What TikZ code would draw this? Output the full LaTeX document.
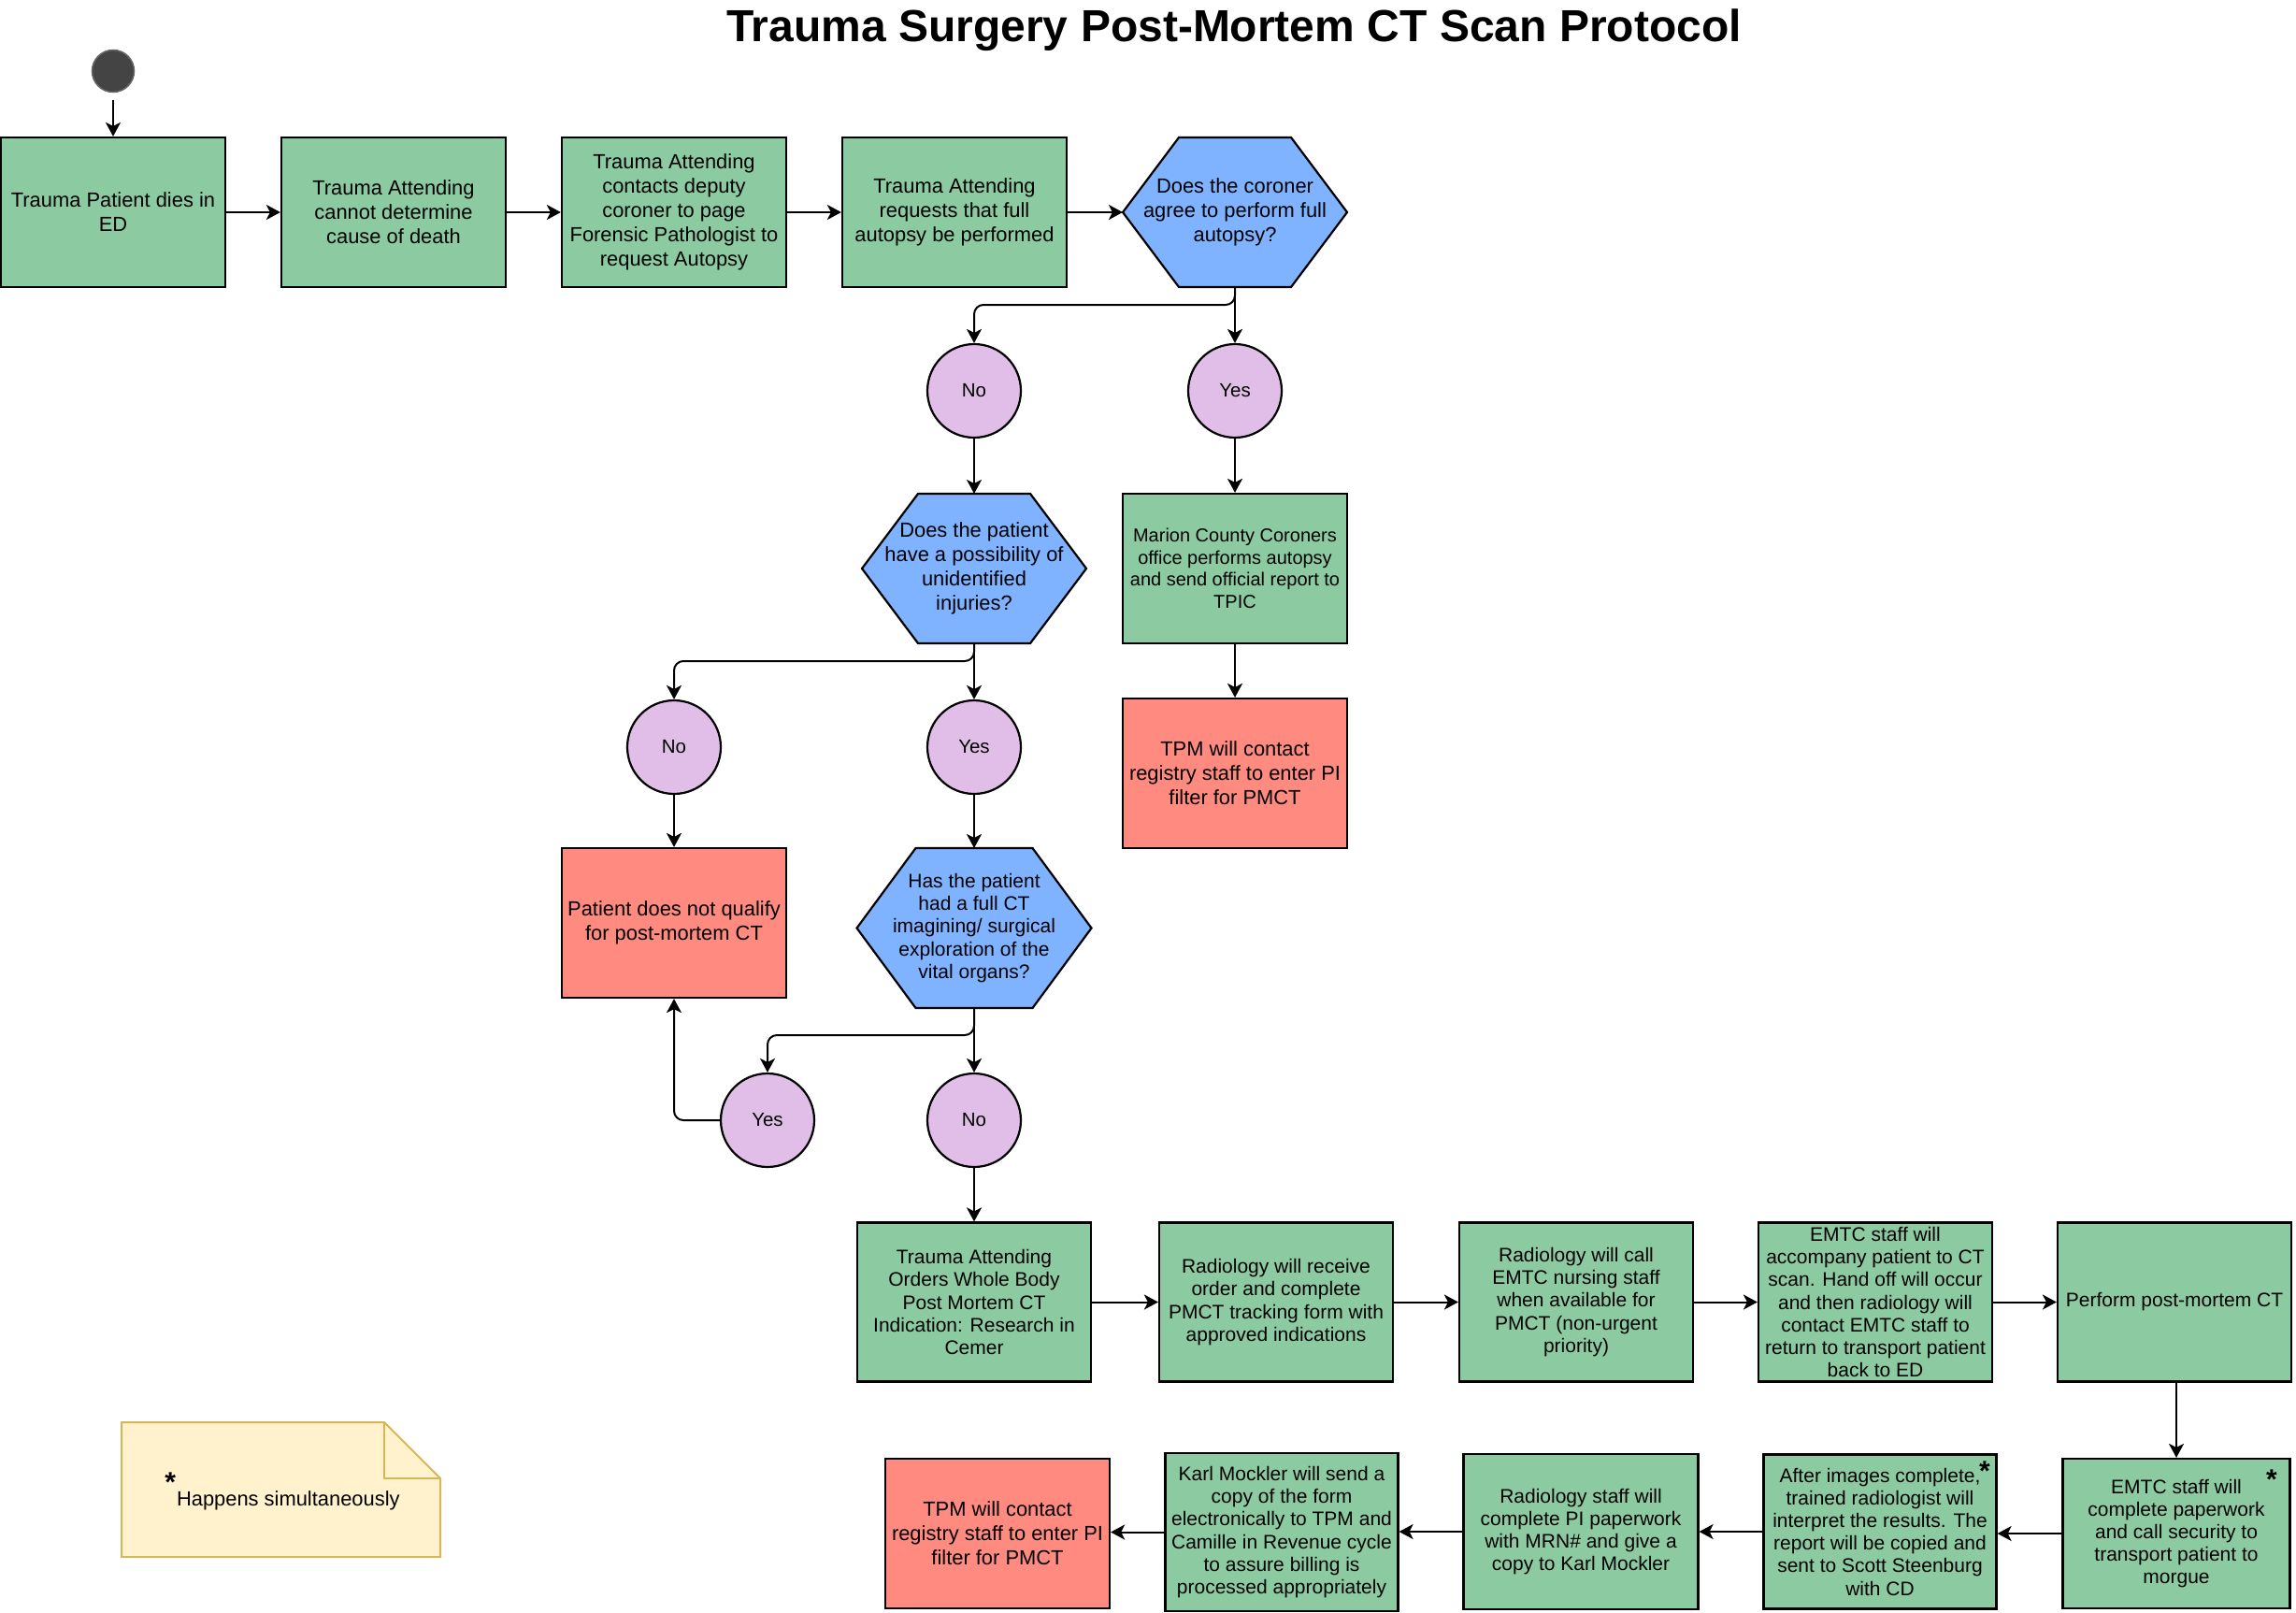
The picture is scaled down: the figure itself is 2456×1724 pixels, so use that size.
\documentclass[tikz,border=0pt]{standalone}
\usepackage{fontspec}
\setmainfont{Liberation Sans}
\usetikzlibrary{arrows.meta,calc,backgrounds}
\definecolor{boxgreen}{HTML}{8CCBA1}
\definecolor{hexblue}{HTML}{7FB2FF}
\definecolor{circpurple}{HTML}{E1BEE7}
\definecolor{boxred}{HTML}{FF8A80}
\definecolor{notefill}{HTML}{FFF2CC}
\definecolor{noteline}{HTML}{D6B656}
\definecolor{startgray}{HTML}{444444}
\definecolor{startline}{HTML}{666666}
\newcommand{\drawhex}[2]{%
  \draw[hexline] (#1.west) -- ([xshift=#2]#1.north west) -- ([xshift=-#2]#1.north east)
    -- (#1.east) -- ([xshift=-#2]#1.south east) -- ([xshift=#2]#1.south west) -- cycle;}
\tikzset{
  base/.style={align=center, font=\fontsize{21.9}{26}\selectfont, inner sep=3pt},
  smtext/.style={font=\fontsize{21}{24.2}\selectfont},
  gbox/.style={base, draw=black, line width=2.2pt, fill=boxgreen, minimum width=240pt, minimum height=160pt},
  rbox/.style={gbox, fill=boxred},
  hexn/.style={base, minimum width=240pt, minimum height=160pt, outer sep=0pt},
  hexline/.style={draw=black, line width=2.2pt, fill=hexblue, line join=miter},
  circ/.style={circle, draw=black, line width=2.2pt, fill=circpurple, minimum size=100pt, inner sep=0pt, font=\fontsize{20.5}{23}\selectfont},
  arr/.style={-{Stealth[length=15pt,width=16pt,inset=4pt]}, line width=2pt, black},
  astx/.style={font=\fontsize{30}{30}\selectfont\bfseries, inner sep=0pt},
}
\begin{document}
\begin{tikzpicture}[x=1pt,y=-1pt]
\useasboundingbox (0,0) rectangle (2456,1724);

% title
\node[font=\fontsize{48}{55}\selectfont\bfseries, anchor=base, inner sep=0pt] (title) at (1320,44) {Trauma Surgery Post-Mortem CT Scan Protocol};

% start
\node[circle, fill=startgray, draw=startline, line width=1.5pt, minimum size=45pt, inner sep=0pt] (start) at (121,76) {};

% row 1
\node[gbox] (b1) at (121,227) {Trauma Patient dies in\\ED};
\node[gbox] (b2) at (421,227) {Trauma Attending\\cannot determine\\cause of death};
\node[gbox] (b3) at (721,227) {Trauma Attending\\contacts deputy\\coroner to page\\Forensic Pathologist to\\request Autopsy};
\node[gbox] (b4) at (1021,227) {Trauma Attending\\requests that full\\autopsy be performed};
\node[hexn] (h1) at (1321,227) {Does the coroner\\agree to perform full\\autopsy?};

% circles level 1
\node[circ] (no1) at (1042,418) {No};
\node[circ] (yes1) at (1321,418) {Yes};

% level 2
\node[hexn] (h2) at (1042,608) {Does the patient\\have a possibility of\\unidentified\\injuries?};
\node[gbox, font=\fontsize{20}{23.5}\selectfont] (mar) at (1321,608) {Marion County Coroners\\office performs autopsy\\and send official report to\\TPIC};
\node[rbox] (tpm1) at (1321,827) {TPM will contact\\registry staff to enter PI\\filter for PMCT};

\node[circ] (no2) at (721,799) {No};
\node[circ] (yes2) at (1042,799) {Yes};

\node[rbox] (pat) at (721,987) {Patient does not qualify\\for post-mortem CT};
\node[hexn, smtext, minimum width=251pt, minimum height=171pt] (h3) at (1042,992.5) {Has the patient\\had a full CT\\imagining/ surgical\\exploration of the\\vital organs?};

\node[circ] (yes3) at (821,1198) {Yes};
\node[circ] (no3) at (1042,1198) {No};

% row 3
\node[gbox, smtext, minimum width=250pt, minimum height=170pt] (c1) at (1042,1392.5) {Trauma Attending\\Orders Whole Body\\Post Mortem CT\\Indication: Research in\\Cemer};
\node[gbox, smtext, minimum width=250pt, minimum height=170pt] (c2) at (1365,1392.5) {Radiology will receive\\order and complete\\PMCT tracking form with\\approved indications};
\node[gbox, smtext, minimum width=250pt, minimum height=170pt] (c3) at (1686,1392.5) {Radiology will call\\EMTC nursing staff\\when available for\\PMCT (non-urgent\\priority)};
\node[gbox, smtext, minimum width=250pt, minimum height=170pt] (c4) at (2006,1392.5) {EMTC staff will\\accompany patient to CT\\scan. Hand off will occur\\and then radiology will\\contact EMTC staff to\\return to transport patient\\back to ED};
\node[gbox, smtext, minimum width=250pt, minimum height=170pt] (c5) at (2326,1392.5) {Perform post-mortem CT};

% row 4
\node[gbox, smtext, minimum width=243pt, minimum height=160pt] (d1) at (2328,1640) {EMTC staff will\\complete paperwork\\and call security to\\transport patient to\\morgue};
\node[gbox, smtext, minimum width=249pt, minimum height=165pt] (d2) at (2011,1638) {After images complete,\\trained radiologist will\\interpret the results. The\\report will be copied and\\sent to Scott Steenburg\\with CD};
\node[gbox, smtext, minimum width=251pt, minimum height=166pt] (d3) at (1691,1638) {Radiology staff will\\complete PI paperwork\\with MRN\# and give a\\copy to Karl Mockler};
\node[gbox, smtext, minimum width=249pt, minimum height=169pt] (d4) at (1371,1638.5) {Karl Mockler will send a\\copy of the form\\electronically to TPM and\\Camille in Revenue cycle\\to assure billing is\\processed appropriately};
\node[rbox] (tpm2) at (1067,1640) {TPM will contact\\registry staff to enter PI\\filter for PMCT};

% asterisks
\node[astx] (ast1) at (2123,1573) {*};
\node[astx] (ast2) at (2430,1582) {*};

% hexagon outlines
\begin{scope}[on background layer]
  \drawhex{h1}{60pt}
  \drawhex{h2}{60pt}
  \drawhex{h3}{63pt}
\end{scope}

% note
\node[minimum width=341pt, minimum height=144pt, inner sep=0pt, outer sep=0pt] (note) at (300.5,1593) {};
\draw[draw=noteline, fill=notefill, line width=2pt, line join=miter]
  (note.north west) -- ([xshift=-60pt]note.north east) -- ($(note.north east)!60pt!(note.south east)$)
  -- (note.south east) -- (note.south west) -- cycle;
\draw[draw=noteline, line width=2pt, line join=miter]
  ([xshift=-60pt]note.north east) -- ($([xshift=-60pt]note.north east)!60pt!([xshift=-60pt]note.south east)$)
  -- ($(note.north east)!60pt!(note.south east)$);
\node[base, anchor=base, inner sep=0pt] (notetext) at (302,1610) {\raisebox{15pt}{\fontsize{30}{30}\selectfont\bfseries *}\hspace{1pt}Happens simultaneously};

% connectors
\draw[arr, shorten <=8pt] (start) -- (b1);
\draw[arr] (b1) -- (b2);
\draw[arr] (b2) -- (b3);
\draw[arr] (b3) -- (b4);
\draw[arr] (b4) -- (h1);
\draw[arr, rounded corners=10pt] (h1.south) -- ++(0,19) -| (no1.north);
\draw[arr] (h1.south) -- (yes1.north);
\draw[arr] (yes1) -- (mar);
\draw[arr] (mar) -- (tpm1);
\draw[arr] (no1) -- (h2.north);
\draw[arr, rounded corners=10pt] (h2.south) -- ++(0,19) -| (no2.north);
\draw[arr] (h2.south) -- (yes2.north);
\draw[arr] (no2) -- (pat);
\draw[arr] (yes2) -- (h3.north);
\draw[arr, rounded corners=10pt] (h3.south) -- ++(0,29) -| (yes3.north);
\draw[arr] (h3.south) -- (no3.north);
\draw[arr, rounded corners=10pt] (yes3.west) -| (pat.south);
\draw[arr] (no3) -- (c1);
\draw[arr] (c1) -- (c2);
\draw[arr] (c2) -- (c3);
\draw[arr] (c3) -- (c4);
\draw[arr] (c4) -- (c5);
\draw[arr] (c5.south -| d1.north) -- (d1.north);
\draw[arr] (d1.west) -- (d1.west -| d2.east);
\draw[arr] (d2.west) -- (d2.west -| d3.east);
\draw[arr] (d3.west) -- (d3.west -| d4.east);
\draw[arr] (d4.west) -- (d4.west -| tpm2.east);
\end{tikzpicture}
\end{document}
